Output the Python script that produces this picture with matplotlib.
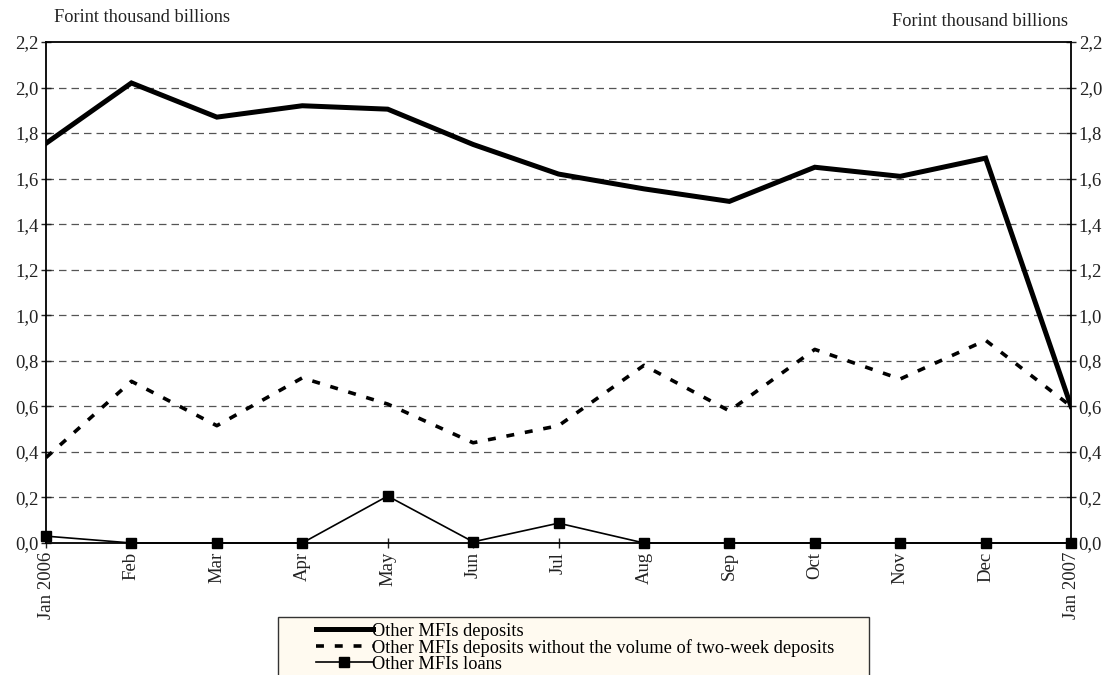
import matplotlib

matplotlib.use("Agg")
import matplotlib.pyplot as plt  # noqa: E402
from matplotlib.patches import Rectangle  # noqa: E402

plt.rcParams["font.family"] = ["Liberation Serif", "DejaVu Serif"]

months = ["Jan 2006", "Feb", "Mar", "Apr", "May", "Jun", "Jul",
          "Aug", "Sep", "Oct", "Nov", "Dec", "Jan 2007"]
deposits = [1.755, 2.02, 1.87, 1.92, 1.905, 1.75, 1.62,
            1.555, 1.50, 1.65, 1.61, 1.69, 0.60]
deposits_ex_2w = [0.375, 0.71, 0.515, 0.725, 0.61, 0.44, 0.515,
                  0.78, 0.58, 0.85, 0.72, 0.89, 0.60]
loans = [0.03, 0.0, 0.0, 0.0, 0.206, 0.005, 0.087,
         0.0, 0.0, 0.0, 0.0, 0.0, 0.0]
y_ticks = [0.0, 0.2, 0.4, 0.6, 0.8, 1.0, 1.2, 1.4, 1.6, 1.8, 2.0, 2.2]
unit = "Forint thousand billions"

fig = plt.figure(figsize=(11.06, 6.75), dpi=100)
ax = fig.add_axes([0.0416, 0.1956, 0.9268, 0.7422])

x = list(range(len(months)))
ax.plot(x, deposits, color="black", lw=3.6, solid_joinstyle="miter",
        label="Other MFIs deposits", zorder=4)
ax.plot(x, deposits_ex_2w, color="black", lw=2.6, dashes=(2.2, 3.0),
        label="Other MFIs deposits without the volume of two-week deposits",
        zorder=3)
ax.plot(x, loans, color="black", lw=1.2, marker="s", ms=7.5,
        label="Other MFIs loans", zorder=5, clip_on=False)

ax.set_xlim(0, len(months) - 1)
ax.set_ylim(0, 2.2)
ax.set_yticks(y_ticks)
ax.set_yticklabels([f"{v:.1f}".replace(".", ",") for v in y_ticks])
ax.set_xticks(x)
ax.set_xticklabels(months, rotation=90)

for v in y_ticks[1:-1]:
    ax.axhline(v, color="#555555", lw=0.9, dashes=(6, 4), zorder=1)

for s in ax.spines.values():
    s.set_linewidth(1.3)
ax.tick_params(axis="y", which="both", left=True, right=True,
               labelleft=True, labelright=True, direction="inout",
               length=7, width=1.0, labelsize=13.5, pad=2, colors="#222222")
ax.tick_params(axis="x", direction="inout", length=7, width=1.0,
               labelsize=13.5, pad=3, colors="#222222")

fig.text(54 / 1106, 1 - 17 / 675, unit, fontsize=13.2, color="#222222",
         ha="left", va="center")
fig.text(1068 / 1106, 1 - 22 / 675, unit, fontsize=13.2, color="#222222",
         ha="right", va="center")

# legend box sits at the bottom edge and runs off the figure
box = Rectangle((278 / 1106, -0.05), (869 - 278) / 1106, 0.05 + 58 / 675,
                transform=fig.transFigure, facecolor="#fffaf0",
                edgecolor="#333333", lw=1.0, clip_on=False)
fig.patches.append(box)
handles, labels = ax.get_legend_handles_labels()
fig.legend(handles, labels, loc="upper left",
           bbox_to_anchor=(312 / 1106, 1 - 619 / 675), frameon=False,
           fontsize=13.2, handlelength=3.1, handletextpad=0.0,
           labelspacing=-0.05, borderpad=0.2, borderaxespad=0)

fig.savefig("out.png", dpi=100)
